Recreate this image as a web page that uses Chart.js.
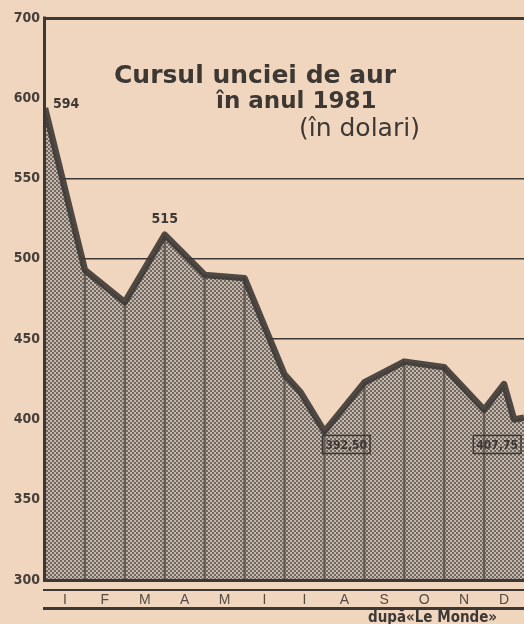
<!DOCTYPE html>
<html><head><meta charset="utf-8">
<script src="https://cdn.jsdelivr.net/npm/chart.js@4/dist/chart.umd.min.js"></script>
<style>html,body{margin:0;padding:0;background:#f0d6be;overflow:hidden}#wrap{width:524px;height:624px;position:relative}</style>
</head><body><div id="wrap"><canvas id="c" width="524" height="624"></canvas></div>
<script>
// ---- data ----
const months = ['I','F','M','A','M','I','I','A','S','O','N','D'];
const monthPositions = [0, 1, 2, 3, 4, 5, 6, 6.4, 7, 8, 9, 10, 11, 11.5, 11.75, 12];
const goldPrice      = [594, 493, 473, 515, 490, 488, 428, 417, 392.5, 423, 436, 432.5, 406, 422, 400, 401];
const priceLabels    = ['594', null, null, '515', null, null, null, null, '392,50', null, null, null, null, null, null, '407,75'];
const yTickValues = [300, 350, 400, 450, 500, 550, 600, 700];
const gridValues  = [450, 500, 550, 700];
const titleLines = ['Cursul unciei de aur', 'în anul 1981', '(în dolari)'];
const sourceText = 'după«Le Monde»';

// ---- styles ----
const PAPER = '#f0d6be';
const INK = '#3d3834';
const COND = "'DejaVu Sans Condensed','DejaVu Sans',sans-serif";
const WIDE = "'DejaVu Sans',sans-serif";

// y axis with a break: 600..700 drawn in the space of 50 units
class BrokenLinear extends Chart.LinearScale {
  getPixelForValue(v) { const t = v > 600 ? 600 + (v - 600) / 2 : v; return super.getPixelForValue(t); }
  getValueForPixel(p) { const v = super.getValueForPixel(p); return v > 600 ? 600 + (v - 600) * 2 : v; }
}
BrokenLinear.id = 'brokenLinear';
BrokenLinear.defaults = Chart.LinearScale.defaults;
Chart.register(BrokenLinear);

function halftone() {
  const c = document.createElement('canvas'); c.width = 4; c.height = 4;
  const g = c.getContext('2d');
  g.fillStyle = 'rgb(196,183,170)'; g.fillRect(0, 0, 4, 4);
  g.fillStyle = 'rgb(112,104,98)'; g.fillRect(0, 0, 2, 2); g.fillRect(2, 2, 2, 2);
  return g.createPattern(c, 'repeat');
}

const pricePoints = monthPositions.map((x, i) => ({ x, y: goldPrice[i] }));
const dividerPoints = pricePoints.filter(p => Number.isInteger(p.x) && p.x > 0 && p.x < 12);

const deco = {
  id: 'deco',
  beforeDraw(chart) {
    const { ctx, width, height } = chart;
    ctx.save(); ctx.fillStyle = PAPER; ctx.fillRect(0, 0, width, height); ctx.restore();
  },
  afterDatasetsDraw(chart) {
    const { ctx, chartArea: a } = chart;
    const yScale = chart.scales.y;
    ctx.save();
    ctx.strokeStyle = INK; ctx.lineCap = 'butt';
    // left axis and bottom line
    ctx.lineWidth = 3;
    ctx.beginPath(); ctx.moveTo(a.left - 0.5, a.top - 1.5); ctx.lineTo(a.left - 0.5, a.bottom + 1.5); ctx.stroke();
    ctx.beginPath(); ctx.moveTo(a.left - 2, a.bottom + 0.5); ctx.lineTo(a.right, a.bottom + 0.5); ctx.stroke();
    // rules framing the month names
    ctx.lineWidth = 2;
    ctx.beginPath(); ctx.moveTo(a.left - 2, a.bottom + 10); ctx.lineTo(a.right, a.bottom + 10); ctx.stroke();
    ctx.lineWidth = 3;
    ctx.beginPath(); ctx.moveTo(a.left - 2, a.bottom + 28.5); ctx.lineTo(a.right, a.bottom + 28.5); ctx.stroke();

    // value labels
    const meta = chart.getDatasetMeta(0);
    const lowestY = yScale.getPixelForValue(Math.min(...goldPrice));
    ctx.fillStyle = INK;
    priceLabels.forEach((t, i) => {
      if (!t) return;
      const el = meta.data[i];
      const x = el.x, y = el.y;
      const prev = goldPrice[i - 1], next = goldPrice[i + 1];
      if (i === 0) {
        ctx.font = 'bold 14px ' + COND;
        ctx.textAlign = 'left'; ctx.textBaseline = 'middle';
        ctx.fillText(t, x + 8, y - 4);
      } else if (next !== undefined && goldPrice[i] > prev && goldPrice[i] > next) {
        ctx.font = 'bold 14px ' + COND;
        ctx.textAlign = 'center'; ctx.textBaseline = 'alphabetic';
        ctx.fillText(t, x, y - 12);
      } else {
        ctx.font = 'bold 12px ' + COND;
        const w = ctx.measureText(t).width + 6, h = 18;
        let bx = x - 2;
        if (bx + w > a.right - 3) bx = a.right - 3 - w;
        const by = lowestY + 4;
        ctx.lineWidth = 1.5;
        ctx.strokeRect(bx, by, w, h);
        ctx.textAlign = 'left'; ctx.textBaseline = 'middle';
        ctx.fillText(t, bx + 3, by + h / 2 + 1);
      }
    });

    // title
    ctx.fillStyle = INK;
    ctx.textAlign = 'left'; ctx.textBaseline = 'alphabetic';
    ctx.font = 'bold 25px ' + WIDE;
    ctx.fillText(titleLines[0], 114, 83);
    ctx.font = 'bold 23px ' + WIDE;
    ctx.fillText(titleLines[1], 216, 108);
    ctx.font = '25px ' + WIDE;
    ctx.fillText(titleLines[2], 299, 136);

    // source
    ctx.font = 'bold 15px ' + COND;
    ctx.fillText(sourceText, 368, 622);
    ctx.restore();
  }
};

new Chart(document.getElementById('c'), {
  type: 'line',
  data: {
    datasets: [
      {
        type: 'line',
        data: pricePoints,
        borderColor: 'rgba(62,57,53,0.9)',
        borderWidth: 6.5,
        borderJoinStyle: 'round',
        backgroundColor: halftone(),
        fill: 'start',
        tension: 0,
        pointRadius: 0,
        clip: 0
      },
      {
        type: 'bar',
        data: dividerPoints,
        backgroundColor: '#625a53',
        borderWidth: 0,
        barThickness: 1.6,
        base: yTickValues[0]
      }
    ]
  },
  options: {
    responsive: false,
    animation: false,
    events: [],
    layout: { padding: { top: 18, right: 0, left: 0, bottom: 0 } },
    plugins: {
      legend: { display: false },
      tooltip: { enabled: false },
      title: { display: false },
      filler: { drawTime: 'beforeDatasetsDraw' }
    },
    scales: {
      x: {
        type: 'linear', min: 0, max: 12, offset: false,
        afterBuildTicks: s => { s.ticks = months.map((m, i) => ({ value: i + 0.5 })); },
        afterFit: s => { s.height = 44; },
        grid: { display: false, drawTicks: false },
        border: { display: false },
        ticks: {
          autoSkip: false, maxRotation: 0, minRotation: 0, padding: 12,
          color: '#544b44',
          font: { family: "'Liberation Sans',sans-serif", size: 14 },
          callback: (v, i) => months[i]
        }
      },
      y: {
        type: 'brokenLinear', min: 300, max: 650, beginAtZero: false,
        afterBuildTicks: s => { s.ticks = yTickValues.map(v => ({ value: v })); },
        afterFit: s => { s.width = 45; },
        border: { display: false },
        grid: {
          drawTicks: false,
          color: c => gridValues.includes(c.tick && c.tick.value) ? INK : 'rgba(0,0,0,0)',
          lineWidth: c => (c.tick && c.tick.value === 700) ? 3 : 1.6
        },
        ticks: {
          autoSkip: false, padding: 5,
          color: '#463f3a',
          font: { family: COND, size: 14, weight: 'bold' },
          callback: v => String(v)
        }
      }
    }
  },
  plugins: [deco]
});
</script>
</body></html>
